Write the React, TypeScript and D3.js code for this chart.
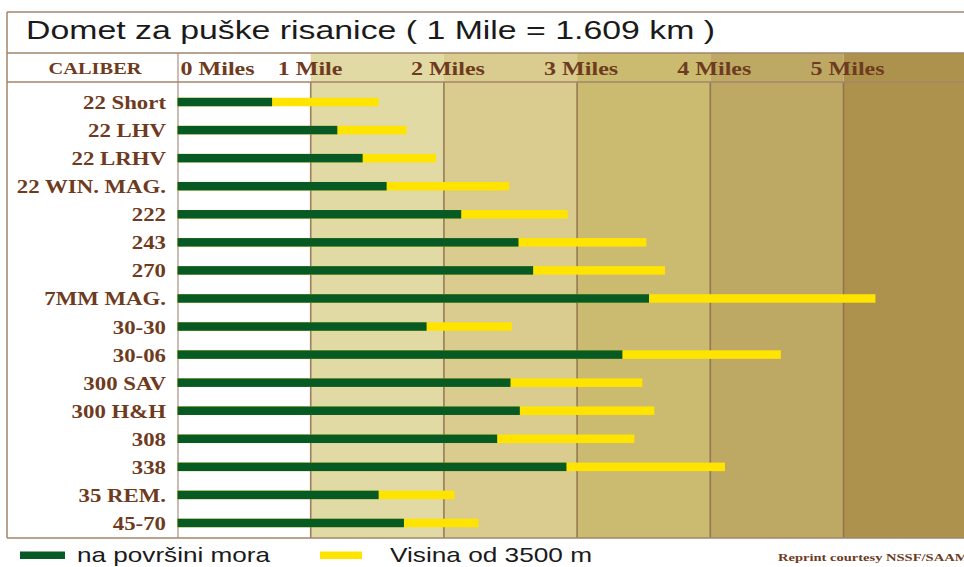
import * as d3 from "d3";

const calibers = [
  "22 Short", "22 LHV", "22 LRHV", "22 WIN. MAG.", "222", "243", "270", "7MM MAG.",
  "30-30", "30-06", "300 SAV", "300 H&H", "308", "338", "35 REM.", "45-70",
];
// range in miles at sea level (green) and at 3500 m altitude (yellow)
const seaLevel = [0.71, 1.2, 1.39, 1.57, 2.13, 2.56, 2.67, 3.54, 1.87, 3.34, 2.5, 2.57, 2.4, 2.92, 1.51, 1.7];
const altitude = [1.51, 1.72, 1.94, 2.49, 2.93, 3.52, 3.66, 5.24, 2.51, 4.53, 3.49, 3.58, 3.43, 4.11, 2.08, 2.26];
const mileTicks = [0, 1, 2, 3, 4, 5];
const mileLabels = ["0 Miles", "1 Mile", "2 Miles", "3 Miles", "4 Miles", "5 Miles"];
const bandColors = ["#ffffff", "#e2daa5", "#dacc8e", "#cbbb70", "#bea964", "#ad924e"];

const W = 964;
const H = 567;
const brown = "#6e3b1e";
const frame = "#a3866a";
const serif = "'Liberation Serif', 'Times New Roman', serif";
const sans = "'Liberation Sans', Arial, sans-serif";

export default function App() {
  const x = d3.scaleLinear([0, 6], [177.5, 177.5 + 6 * 133.2]);
  const y = d3.scaleBand(calibers, [88, 537]);
  const barH = 8.5;
  const top = 53;
  const headBottom = 82;
  const bottom = 538;

  return (
    <svg width={W} height={H} style={{ position: "absolute", left: 0, top: 0, background: "#fff" }}>
      {/* mile bands, header row included */}
      {bandColors.map((c, i) => (
        <rect key={i} x={x(i)} y={top} width={x(i + 1) - x(i)} height={bottom - top} fill={c} />
      ))}
      {/* gridlines */}
      {mileTicks.slice(1).map((m) => (
        <line key={m} x1={x(m)} x2={x(m)} y1={headBottom} y2={bottom} stroke="#8c6b4a" strokeOpacity={0.85} strokeWidth={1.6} />
      ))}
      <line x1={178} x2={178} y1={top} y2={bottom} stroke="#cbbcb4" strokeWidth={2} />

      {/* frame */}
      <line x1={7} x2={W} y1={12} y2={12} stroke={frame} strokeWidth={1.5} />
      <line x1={7} x2={7} y1={12} y2={bottom} stroke={frame} strokeWidth={1.5} />
      <line x1={7} x2={W} y1={top} y2={top} stroke={frame} strokeWidth={1.5} />
      <line x1={7} x2={W} y1={headBottom} y2={headBottom} stroke={frame} strokeWidth={1.5} />
      <line x1={7} x2={W} y1={bottom} y2={bottom} stroke={frame} strokeWidth={1.5} />

      <text x={26} y={39} fontFamily={sans} fontSize={25} fill="#1a1a1a" textLength={689} lengthAdjust="spacingAndGlyphs">
        Domet za puške risanice ( 1 Mile = 1.609 km )
      </text>

      {/* header */}
      <text transform="translate(95,74) scale(1.2,1)" textAnchor="middle" fontFamily={serif} fontWeight="bold" fontSize={17} fill={brown}>
        CALIBER
      </text>
      {mileTicks.map((m, i) => (
        <text
          key={m}
          transform={`translate(${m === 0 ? x(0) + 3 : x(m) - 33},75) scale(1.3,1)`}
          fontFamily={serif}
          fontWeight="bold"
          fontSize={18.5}
          fill={brown}
        >
          {mileLabels[i]}
        </text>
      ))}

      {/* bars */}
      {calibers.map((c, i) => {
        const cy = y(c)! + y.bandwidth() / 2;
        return (
          <g key={c}>
            <text
              transform={`translate(166,${cy + 7}) scale(1.17,1)`}
              textAnchor="end"
              fontFamily={serif}
              fontWeight="bold"
              fontSize={19.5}
              fill={brown}
            >
              {c}
            </text>
            <rect x={x(0)} y={cy - barH / 2} width={x(altitude[i]) - x(0)} height={barH} fill="#ffe400" />
            <rect x={x(0)} y={cy - barH / 2} width={x(seaLevel[i]) - x(0)} height={barH} fill="#075a24" />
          </g>
        );
      })}

      {/* legend */}
      <rect x={20} y={551.5} width={45} height={7.5} fill="#075a24" />
      <text x={77} y={562} fontFamily={sans} fontSize={21} fill="#1a1a1a" textLength={193} lengthAdjust="spacingAndGlyphs">
        na površini mora
      </text>
      <rect x={320} y={551.5} width={42} height={7.5} fill="#ffe400" />
      <text x={390} y={562} fontFamily={sans} fontSize={21} fill="#1a1a1a" textLength={202} lengthAdjust="spacingAndGlyphs">
        Visina od 3500 m
      </text>
      <text x={778} y={561} fontFamily={serif} fontWeight="bold" fontSize={10} fill={brown} textLength={196} lengthAdjust="spacingAndGlyphs">
        Reprint courtesy NSSF/SAAMI
      </text>
    </svg>
  );
}
